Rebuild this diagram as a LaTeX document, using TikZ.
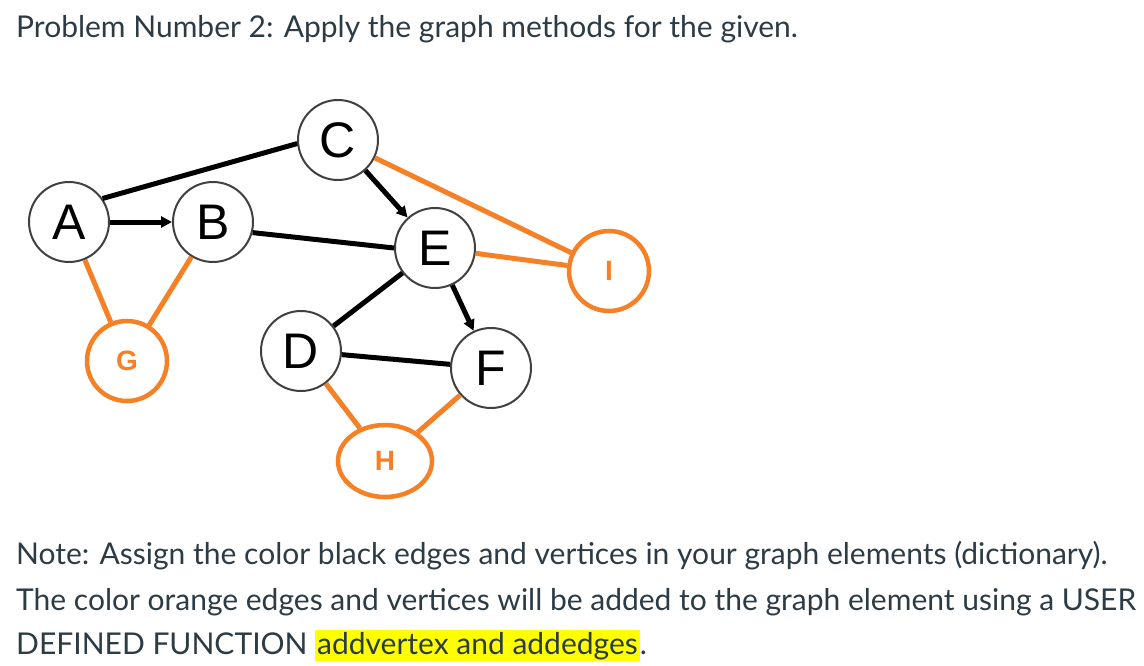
\documentclass[tikz,border=0pt]{standalone}
\usepackage{fontspec}
\setmainfont{Lato}
\newfontfamily\vertexfont{Liberation Sans}
\usetikzlibrary{arrows.meta,shapes.geometric}
\definecolor{canvastext}{RGB}{45,59,69}
\definecolor{addorange}{RGB}{245,128,37}
\definecolor{markyellow}{RGB}{255,255,0}
\tikzset{
  blackvertex/.style={circle, draw=black!75, line width=2pt, fill=white, minimum size=80pt, inner sep=0pt, font=\vertexfont\fontsize{50}{50}\selectfont},
  orangevertex/.style={circle, draw=addorange, line width=4.5pt, fill=white, minimum size=80pt, inner sep=0pt, text=addorange, font=\vertexfont\bfseries\fontsize{28}{28}\selectfont},
  blackedge/.style={line width=5pt, black},
  orangeedge/.style={line width=5pt, addorange},
  arc/.style={blackedge, -{Triangle[length=11pt,width=11pt]}},
  note/.style={anchor=base west, inner sep=0pt, text=canvastext, font=\fontsize{30}{30}\selectfont}
}
\begin{document}
\begin{tikzpicture}[x=1pt, y=-1pt]
  \useasboundingbox[fill=white] (0,0) rectangle (1144,666);

  % Heading
  \node[note] (title) at (16,38) {Problem Number 2: Apply the graph methods for the given.};

  % Vertices
  \node[blackvertex] (A) at (69,222) {A};
  \node[blackvertex] (B) at (213,222) {B};
  \node[blackvertex] (C) at (338,140) {C};
  \node[blackvertex] (E) at (435,248) {E};
  \node[blackvertex] (D) at (301,351) {D};
  \node[blackvertex] (F) at (491,368) {F};
  \node[orangevertex] (I) at (609,271) {I};
  \node[orangevertex, minimum size=80pt] (G) at (127,361) {G};
  \node[orangevertex, ellipse, minimum width=94pt, minimum height=72pt] (H) at (385,461) {H};

  % Black edges
  \draw[blackedge] (A.35) -- (C.185);
  \draw[arc] (A) -- (B);
  \draw[blackedge] (B.-15) -- (E.180);
  \draw[arc] (C) -- (E);
  \draw[blackedge] (E) -- (D);
  \draw[arc] (E) -- (F);
  \draw[blackedge] (D) -- (F);

  % Orange edges
  \draw[orangeedge] (C) -- (I);
  \draw[orangeedge] (E) -- (I);
  \draw[orangeedge] (A) -- (G);
  \draw[orangeedge] (B) -- (G);
  \draw[orangeedge] (D) -- (H);
  \draw[orangeedge] (F) -- (H);

  % Note
  \node[note] (line1) at (16,564) {Note: Assign the color black edges and vertices in your graph elements (dictionary).};
  \node[note] (line2) at (16,610) {The color orange edges and vertices will be added to the graph element using a USER};
  \node[note] (line3) at (16,654) {DEFINED FUNCTION \setlength{\fboxsep}{2pt}\colorbox{markyellow}{addvertex and addedges}.};
\end{tikzpicture}
\end{document}
